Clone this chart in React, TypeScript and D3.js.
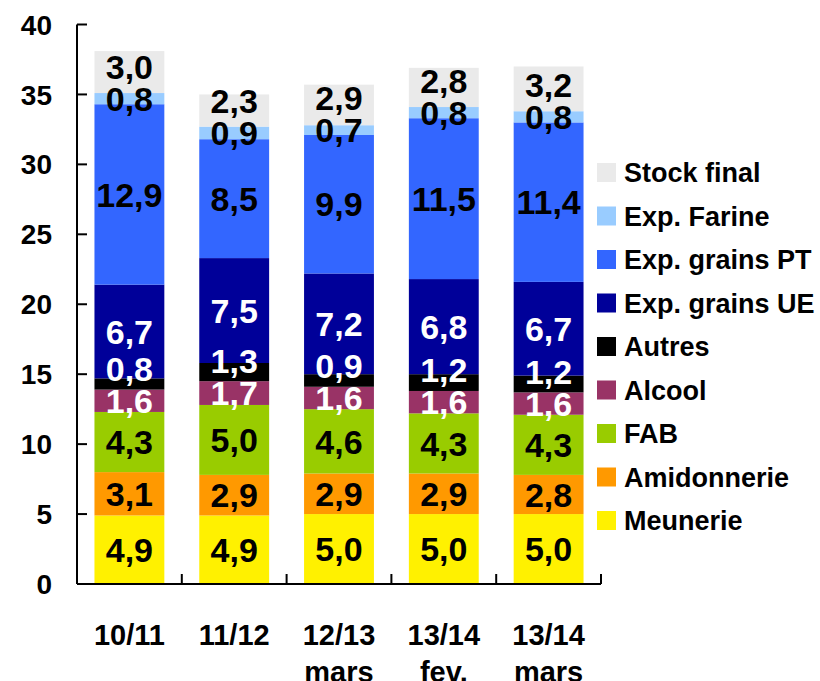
import React from "react";
import * as d3 from "d3";

const categories = [["10/11"], ["11/12"], ["12/13", "mars"], ["13/14", "fev."], ["13/14", "mars"]];
const seriesNames = ["Meunerie", "Amidonnerie", "FAB", "Alcool", "Autres", "Exp. grains UE", "Exp. grains PT", "Exp. Farine", "Stock final"];
const meunerie = [4.9, 4.9, 5.0, 5.0, 5.0];
const amidonnerie = [3.1, 2.9, 2.9, 2.9, 2.8];
const fab = [4.3, 5.0, 4.6, 4.3, 4.3];
const alcool = [1.6, 1.7, 1.6, 1.6, 1.6];
const autres = [0.8, 1.3, 0.9, 1.2, 1.2];
const expUE = [6.7, 7.5, 7.2, 6.8, 6.7];
const expPT = [12.9, 8.5, 9.9, 11.5, 11.4];
const expFarine = [0.8, 0.9, 0.7, 0.8, 0.8];
const stockFinal = [3.0, 2.3, 2.9, 2.8, 3.2];
const yTicks = [0, 5, 10, 15, 20, 25, 30, 35, 40];

const seriesValues = [meunerie, amidonnerie, fab, alcool, autres, expUE, expPT, expFarine, stockFinal];
const colors = ["#FFF100", "#FF9900", "#99CC00", "#993366", "#000000", "#000099", "#3366FF", "#99CCFF", "#EAEAEA"];
const labelColors = ["#000", "#000", "#000", "#fff", "#fff", "#fff", "#000", "#000", "#000"];

const W = 820, H = 681;
const plotLeft = 77, plotRight = 601, plotTop = 24.5, plotBottom = 584;
const FONT = "'Liberation Sans', Arial, sans-serif";

export default function App() {
  const x = d3.scaleBand<number>().domain(d3.range(categories.length)).range([plotLeft, plotRight]).paddingInner(1 / 3).paddingOuter(1 / 6);
  const y = d3.scaleLinear().domain([0, 40]).range([plotBottom, plotTop]);
  const step = x.step();

  const table = categories.map((_, i) => {
    const row: any = { i };
    seriesNames.forEach((s, k) => (row[s] = seriesValues[k][i]));
    return row;
  });
  const stacked = d3.stack().keys(seriesNames)(table as any);

  // label positions with simple upward collision avoidance
  const minGap = 32;
  const labels: { x: number; y: number; text: string; color: string }[] = [];
  categories.forEach((_, i) => {
    let prev = Infinity;
    stacked.forEach((layer, k) => {
      const d = layer[i];
      let cy = (y(d[0]) + y(d[1])) / 2;
      if (prev - cy < minGap) cy = prev - minGap;
      prev = cy;
      labels.push({
        x: (x(i) as number) + x.bandwidth() / 2,
        y: cy,
        text: d3.format(".1f")(seriesValues[k][i]).replace(".", ","),
        color: labelColors[k],
      });
    });
  });

  const legendX = 597, legendTop = 172.5, legendStep = 43.5;
  const legendOrder = seriesNames.map((_, k) => seriesNames.length - 1 - k);

  return (
    <svg width={W} height={H} style={{ position: "absolute", left: 0, top: 0, background: "#fff" }} fontFamily={FONT} fontWeight="bold">
      {stacked.map((layer, k) => (
        <g key={k} fill={colors[k]}>
          {layer.map((d, i) => (
            <rect key={i} x={x(i)} y={y(d[1])} width={x.bandwidth()} height={y(d[0]) - y(d[1])} />
          ))}
        </g>
      ))}
      {/* axes */}
      <line x1={plotLeft} x2={plotLeft} y1={plotTop} y2={plotBottom} stroke="#000" strokeWidth={2} />
      <line x1={plotLeft} x2={plotRight} y1={plotBottom} y2={plotBottom} stroke="#000" strokeWidth={2} />
      {yTicks.map((t) => (
        <g key={t}>
          <line x1={plotLeft} x2={plotLeft + 10} y1={y(t)} y2={y(t)} stroke="#000" strokeWidth={2} />
          <text x={52} y={y(t)} dy="0.36em" textAnchor="end" fontSize={28}>{t}</text>
        </g>
      ))}
      {categories.map((_, i) => (
        <line key={i} x1={plotLeft + step * (i + 1)} x2={plotLeft + step * (i + 1)} y1={plotBottom} y2={plotBottom - 10} stroke="#000" strokeWidth={2} />
      ))}
      {categories.map((lines, i) => (
        <text key={i} x={(x(i) as number) + x.bandwidth() / 2} y={645} textAnchor="middle" fontSize={29}>
          {lines.map((l, j) => (
            <tspan key={j} x={(x(i) as number) + x.bandwidth() / 2} dy={j === 0 ? 0 : 37}>{l}</tspan>
          ))}
        </text>
      ))}
      {labels.map((l, n) => (
        <text key={n} x={l.x} y={l.y} dy="0.36em" textAnchor="middle" fontSize={34} fill={l.color}>{l.text}</text>
      ))}
      {legendOrder.map((k, j) => (
        <g key={k} transform={`translate(${legendX},${legendTop + j * legendStep})`}>
          <rect x={0} y={-9.5} width={19} height={19} fill={colors[k]} />
          <text x={27} y={0} dy="0.36em" fontSize={27}>{seriesNames[k]}</text>
        </g>
      ))}
    </svg>
  );
}
